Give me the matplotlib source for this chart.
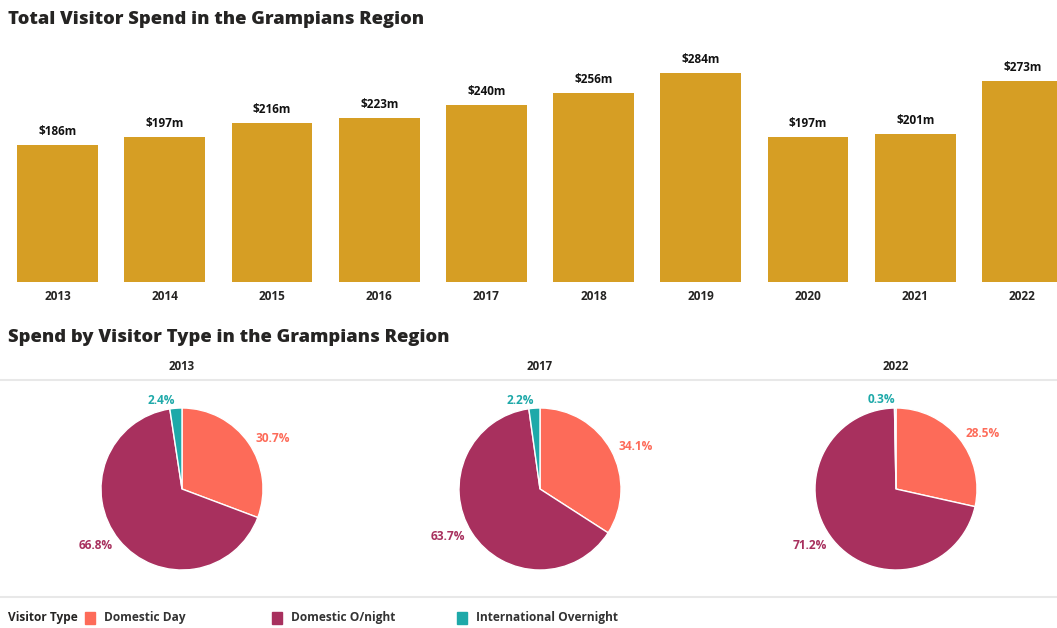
import matplotlib.pyplot as plt
from matplotlib.lines import Line2D
from matplotlib.patches import Rectangle

years = ["2013", "2014", "2015", "2016", "2017", "2018", "2019", "2020", "2021", "2022"]
spend = [186, 197, 216, 223, 240, 256, 284, 197, 201, 273]

visitor_types = ["Domestic Day", "Domestic O/night", "International Overnight"]
pie_years = ["2013", "2017", "2022"]
share_2013 = [30.7, 66.8, 2.4]
share_2017 = [34.1, 63.7, 2.2]
share_2022 = [28.5, 71.2, 0.3]
shares = [share_2013, share_2017, share_2022]

BAR_COLOR = "#D69E24"
TYPE_COLORS = ["#FD6B59", "#A8305E", "#1EA9A9"]
TXT = "#252423"

W, H = 1057, 628
plt.rcParams["font.family"] = ["Open Sans", "DejaVu Sans"]
fig = plt.figure(figsize=(W / 100, H / 100), dpi=100)


def px(x, y):
    return x / W, 1 - y / H


# --- bar chart ---
ax = fig.add_axes([4 / W, 1 - 282 / H, 1072 / W, 221 / H])
bars = ax.bar(range(len(years)), spend, width=0.755, color=BAR_COLOR)
ax.bar_label(bars, labels=[f"${v}m" for v in spend], padding=5,
             fontsize=8.5, fontweight="bold", color="#111111")
ax.set_xlim(-0.5, len(years) - 0.5)
ax.set_ylim(0, 300)
ax.set_xticks(range(len(years)))
ax.set_xticklabels(years, fontsize=8.5, fontweight="bold", color=TXT)
ax.tick_params(axis="x", length=0, pad=6)
ax.set_yticks([])
for s in ax.spines.values():
    s.set_visible(False)

fig.text(*px(8, 20), "Total Visitor Spend in the Grampians Region",
         fontsize=13.2, fontweight="heavy", color=TXT, va="center")
fig.text(*px(8, 337), "Spend by Visitor Type in the Grampians Region",
         fontsize=13.2, fontweight="heavy", color=TXT, va="center")

# --- pies ---
R = 81
centers = [(182, 489), (540, 489), (896, 489)]
for (cx, cy), yr, vals in zip(centers, pie_years, shares):
    pax = fig.add_axes([(cx - 150) / W, 1 - (cy + 100) / H, 300 / W, 200 / H])
    wedges, texts = pax.pie(vals, colors=TYPE_COLORS, startangle=90, counterclock=False,
                            labels=[f"{v}%" for v in vals], labeldistance=1.1,
                            wedgeprops=dict(edgecolor="white", linewidth=1))
    for t, c in zip(texts, TYPE_COLORS):
        t.set_color(c)
        t.set_fontsize(8.6)
        t.set_fontweight("bold")
    pax.set_xlim(-150 / R, 150 / R)
    pax.set_ylim(-100 / R, 100 / R)
    pax.set_aspect("auto")
    pax.axis("off")
    fig.text(*px(cx, 367), yr, fontsize=8.3, fontweight="bold", color=TXT,
             ha="center", va="center")

for yline in (380, 597):
    fig.add_artist(Line2D([0, 1], [1 - yline / H] * 2, color="#E8E8E8", lw=1.5,
                          transform=fig.transFigure))

# --- legend ---
fig.text(*px(8, 618), "Visitor Type", fontsize=8.6, fontweight="bold", color=TXT, va="center")
legend_x = [85, 272, 457]
for lx, name, c in zip(legend_x, visitor_types, TYPE_COLORS):
    x0, y0 = px(lx, 624)
    fig.add_artist(Rectangle((x0, y0), 10 / W, 12 / H, color=c, transform=fig.transFigure))
    fig.text(*px(lx + 19, 618), name, fontsize=8.6, fontweight="bold", color="#333333", va="center")

fig.savefig("out.png", dpi=100)
plt.close(fig)
